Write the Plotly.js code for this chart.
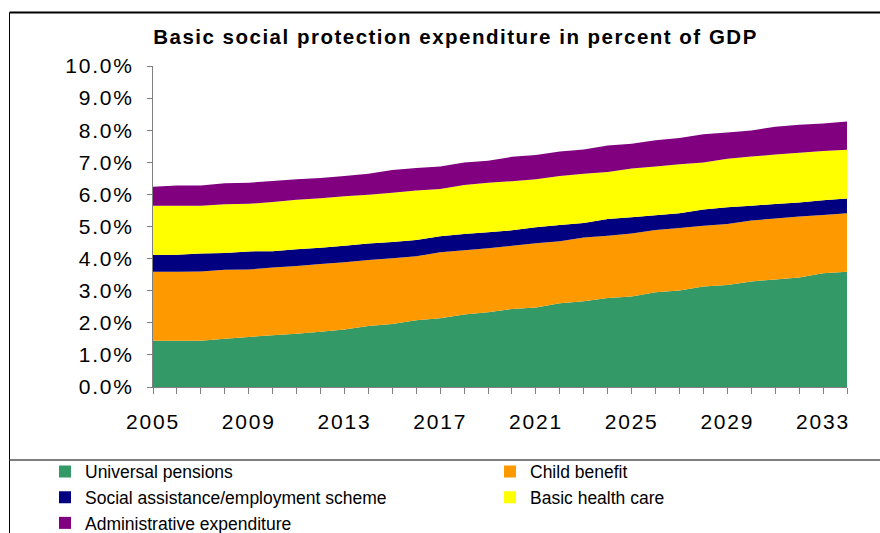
<!DOCTYPE html>
<html>
<head>
<meta charset="utf-8">
<script src="https://cdn.plot.ly/plotly-3.0.1.min.js"></script>
<style>
html,body{margin:0;padding:0;background:#fff;}
#chart{width:880px;height:533px;}
#chart .gtitle{letter-spacing:1.5px;}
#chart .xtick text, #chart .ytick text{letter-spacing:1.8px;}
</style>
</head>
<body>
<div id="chart"></div>
<script>
const years = [2005,2006,2007,2008,2009,2010,2011,2012,2013,2014,2015,2016,2017,2018,2019,2020,2021,2022,2023,2024,2025,2026,2027,2028,2029,2030,2031,2032,2033,2034];
const universalPensions = [1.44,1.44,1.44,1.50,1.56,1.61,1.66,1.72,1.79,1.90,1.96,2.08,2.14,2.26,2.33,2.43,2.48,2.61,2.67,2.77,2.82,2.95,3.01,3.13,3.18,3.29,3.35,3.41,3.54,3.59];
const childBenefit = [2.15,2.15,2.16,2.15,2.10,2.11,2.11,2.11,2.10,2.06,2.05,1.99,2.06,2.00,1.99,1.97,2.00,1.93,1.99,1.94,1.96,1.94,1.94,1.89,1.90,1.90,1.90,1.90,1.82,1.82];
const socialAssistance = [0.52,0.53,0.56,0.525,0.565,0.51,0.52,0.51,0.51,0.51,0.51,0.51,0.50,0.51,0.50,0.48,0.50,0.51,0.45,0.52,0.51,0.46,0.46,0.51,0.52,0.46,0.45,0.44,0.46,0.46];
const basicHealthCare = [1.54,1.53,1.49,1.52,1.48,1.53,1.54,1.54,1.54,1.52,1.53,1.54,1.47,1.52,1.54,1.53,1.49,1.52,1.53,1.47,1.52,1.52,1.53,1.46,1.51,1.53,1.54,1.55,1.53,1.52];
const adminExpenditure = [0.59,0.63,0.63,0.65,0.66,0.66,0.64,0.63,0.63,0.65,0.71,0.70,0.70,0.70,0.69,0.76,0.76,0.77,0.76,0.82,0.77,0.82,0.82,0.88,0.82,0.81,0.87,0.87,0.86,0.88];

const seriesNames = ["Universal pensions","Child benefit","Social assistance/employment scheme","Basic health care","Administrative expenditure"];
const seriesValues = [universalPensions, childBenefit, socialAssistance, basicHealthCare, adminExpenditure];
const seriesColors = ["#339966","#FF9900","#000080","#FFFF00","#800080"];
const legendColumn = ["legend","legend2","legend","legend2","legend"];

const traces = [];
seriesValues.forEach((vals, i) => {
  traces.push({
    x: years, y: vals, type: 'scatter', mode: 'none',
    stackgroup: 'one', fillcolor: seriesColors[i],
    line: {width: 0}, name: seriesNames[i], showlegend: false, hoverinfo: 'x+y+name'
  });
});
seriesNames.forEach((nm, i) => {
  traces.push({
    x: [null], y: [null], type: 'scatter', mode: 'markers',
    marker: {symbol: 'square', size: 12, color: seriesColors[i], line: {width: 0}},
    name: nm, showlegend: true, legend: legendColumn[i]
  });
});

const font = "Liberation Sans, Arial, sans-serif";
const L = 153, R = 847, T = 66, B = 387;
const px = v => (v - L) / (R - L);
const py = v => (B - v) / (B - T);

const legendBase = {
  orientation: 'v', xref: 'container', yref: 'container',
  xanchor: 'left', y: 1 - 453.5/533, yanchor: 'top',
  font: {family: font, size: 17.5, color: '#000'},
  bgcolor: 'rgba(0,0,0,0)', borderwidth: 0, tracegroupgap: 0,
  itemclick: false, traceorder: 'normal'
};

const layout = {
  width: 880, height: 533,
  margin: {l: L, r: 880 - R, t: T, b: 533 - B, autoexpand: false},
  paper_bgcolor: '#ffffff', plot_bgcolor: '#ffffff',
  font: {family: font, color: '#000'},
  title: {
    text: '<b>Basic social protection expenditure in percent of GDP</b>',
    font: {family: font, size: 20.5, color: '#000'},
    x: 455.5/880, xref: 'container', xanchor: 'center',
    y: 1 - 36.5/533, yref: 'container', yanchor: 'middle'
  },
  xaxis: {
    range: [2005, 2034], tick0: 2005, dtick: 4, tickmode: 'linear',
    ticks: 'outside', ticklen: 6, tickcolor: '#808080', tickwidth: 1,
    minor: {dtick: 1, tick0: 2005, ticks: 'outside', ticklen: 6, tickcolor: '#808080', tickwidth: 1},
    showline: true, linecolor: '#808080', linewidth: 1,
    showgrid: false, zeroline: false, automargin: false,
    tickfont: {family: font, size: 21, color: '#000'},
    ticklabelstandoff: 10
  },
  yaxis: {
    range: [0, 10], dtick: 1, tick0: 0, tickmode: 'linear',
    tickformat: '.1f', ticksuffix: '%',
    ticks: 'outside', ticklen: 5, tickcolor: '#808080', tickwidth: 1,
    showline: true, linecolor: '#808080', linewidth: 1,
    showgrid: false, zeroline: false, automargin: false,
    tickfont: {family: font, size: 21, color: '#000'},
    ticklabelstandoff: 9
  },
  legend: Object.assign({}, legendBase, {x: 45/880}),
  legend2: Object.assign({}, legendBase, {x: 490/880}),
  shapes: [
    {type: 'line', xref: 'paper', yref: 'paper', x0: px(9.5), x1: px(880), y0: py(12.5), y1: py(12.5), line: {color: '#000', width: 2}},
    {type: 'line', xref: 'paper', yref: 'paper', x0: px(9.5), x1: px(9.5), y0: py(12.5), y1: py(533), line: {color: '#000', width: 1}},
    {type: 'line', xref: 'paper', yref: 'paper', x0: px(9.5), x1: px(880), y0: py(460), y1: py(460), line: {color: '#555', width: 1.5}}
  ],
  showlegend: true
};

Plotly.newPlot('chart', traces, layout, {displayModeBar: false, staticPlot: true});
</script>
</body>
</html>
